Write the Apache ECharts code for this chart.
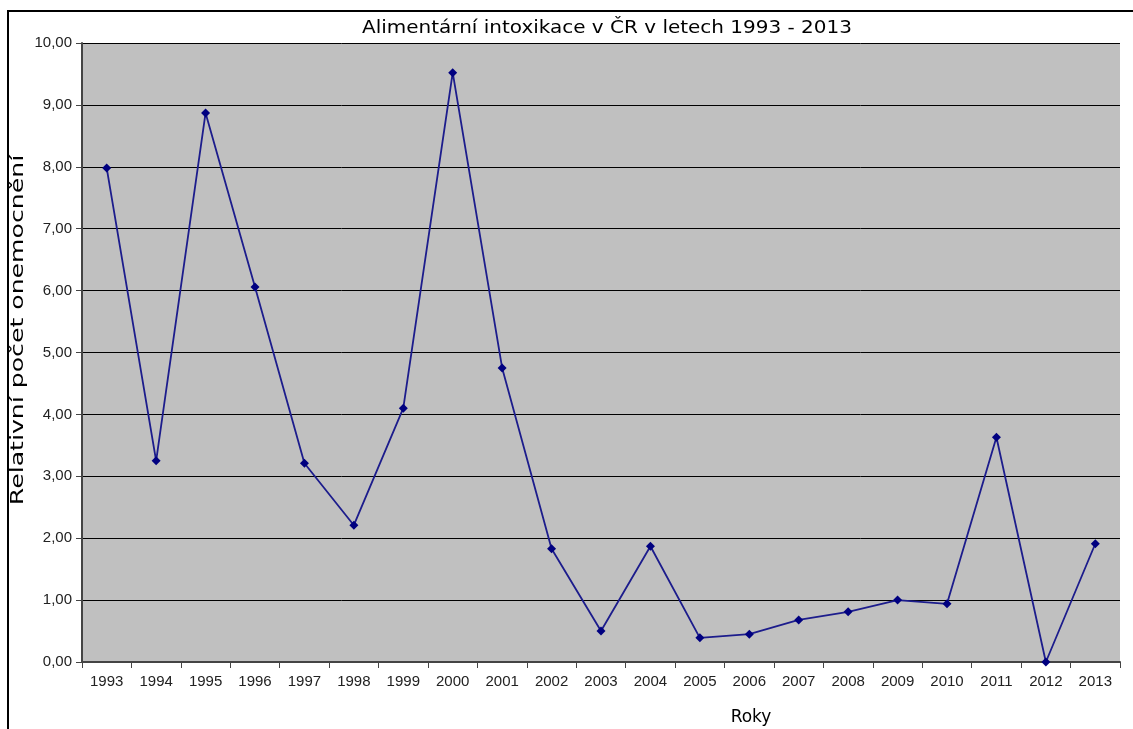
<!DOCTYPE html>
<html><head><meta charset="utf-8">
<script src="https://cdn.jsdelivr.net/npm/echarts@6/dist/echarts.min.js"></script>
<style>html,body{margin:0;padding:0;background:#fff}#c{width:1133px;height:729px}</style>
</head><body><div id="c"></div>
<script>
const years = ['1993','1994','1995','1996','1997','1998','1999','2000','2001','2002','2003','2004','2005','2006','2007','2008','2009','2010','2011','2012','2013'];
const values = [7.98,3.25,8.87,6.06,3.21,2.21,4.10,9.52,4.75,1.83,0.50,1.87,0.39,0.45,0.68,0.81,1.00,0.94,3.63,0.00,1.91];
const titleText = 'Alimentární intoxikace v ČR v letech 1993 - 2013';
const xName = 'Roky';
const yName = 'Relativní počet onemocnění';

const chart = echarts.init(document.getElementById('c'), null, {renderer:'canvas'});
chart.setOption({
  animation:false,
  backgroundColor:'#fff',
  graphic:[
    {type:'rect',shape:{x:8,y:11,width:1300,height:900},style:{fill:'none',stroke:'#000',lineWidth:2},z:-1},
    {type:'text',x:607,y:28,scaleX:1.11,
     style:{text:titleText,font:'18px "DejaVu Sans"',fill:'#000',textAlign:'center',textVerticalAlign:'middle'}},
    {type:'text',x:751,y:718,
     style:{text:xName,font:'17px "DejaVu Sans"',fill:'#000',textAlign:'center',textVerticalAlign:'middle'}},
    {type:'text',x:19,y:330,rotation:Math.PI/2,scaleX:1.48,
     style:{text:yName,font:'17px "DejaVu Sans"',fill:'#000',textAlign:'center',textVerticalAlign:'middle'}}
  ],
  grid:{left:82,top:43,right:13,bottom:67,show:true,backgroundColor:'#c0c0c0',borderWidth:0,
    containLabel:false,outerBoundsMode:'none'},
  xAxis:{type:'category',data:years,boundaryGap:true,
    axisLine:{lineStyle:{color:'#444',width:2}},
    axisTick:{show:true,length:6,lineStyle:{color:'#444'},alignWithLabel:false},
    axisLabel:{fontFamily:'Liberation Sans',fontSize:15,color:'#222',margin:12,interval:0}},
  yAxis:{type:'value',min:0,max:10,interval:1,
    axisLine:{show:true,lineStyle:{color:'#444',width:2}},
    axisTick:{show:true,length:6,lineStyle:{color:'#444'}},
    axisLabel:{fontFamily:'Liberation Sans',fontSize:15,color:'#222',margin:10,
      formatter:v=>v.toFixed(2).replace('.',',')},
    splitLine:{lineStyle:{color:'#000',width:1}}},
  series:[{type:'line',data:values,symbol:'diamond',symbolSize:9,
    lineStyle:{color:'#1c1c8c',width:1.8},itemStyle:{color:'#000080'}}]
});
</script></body></html>
